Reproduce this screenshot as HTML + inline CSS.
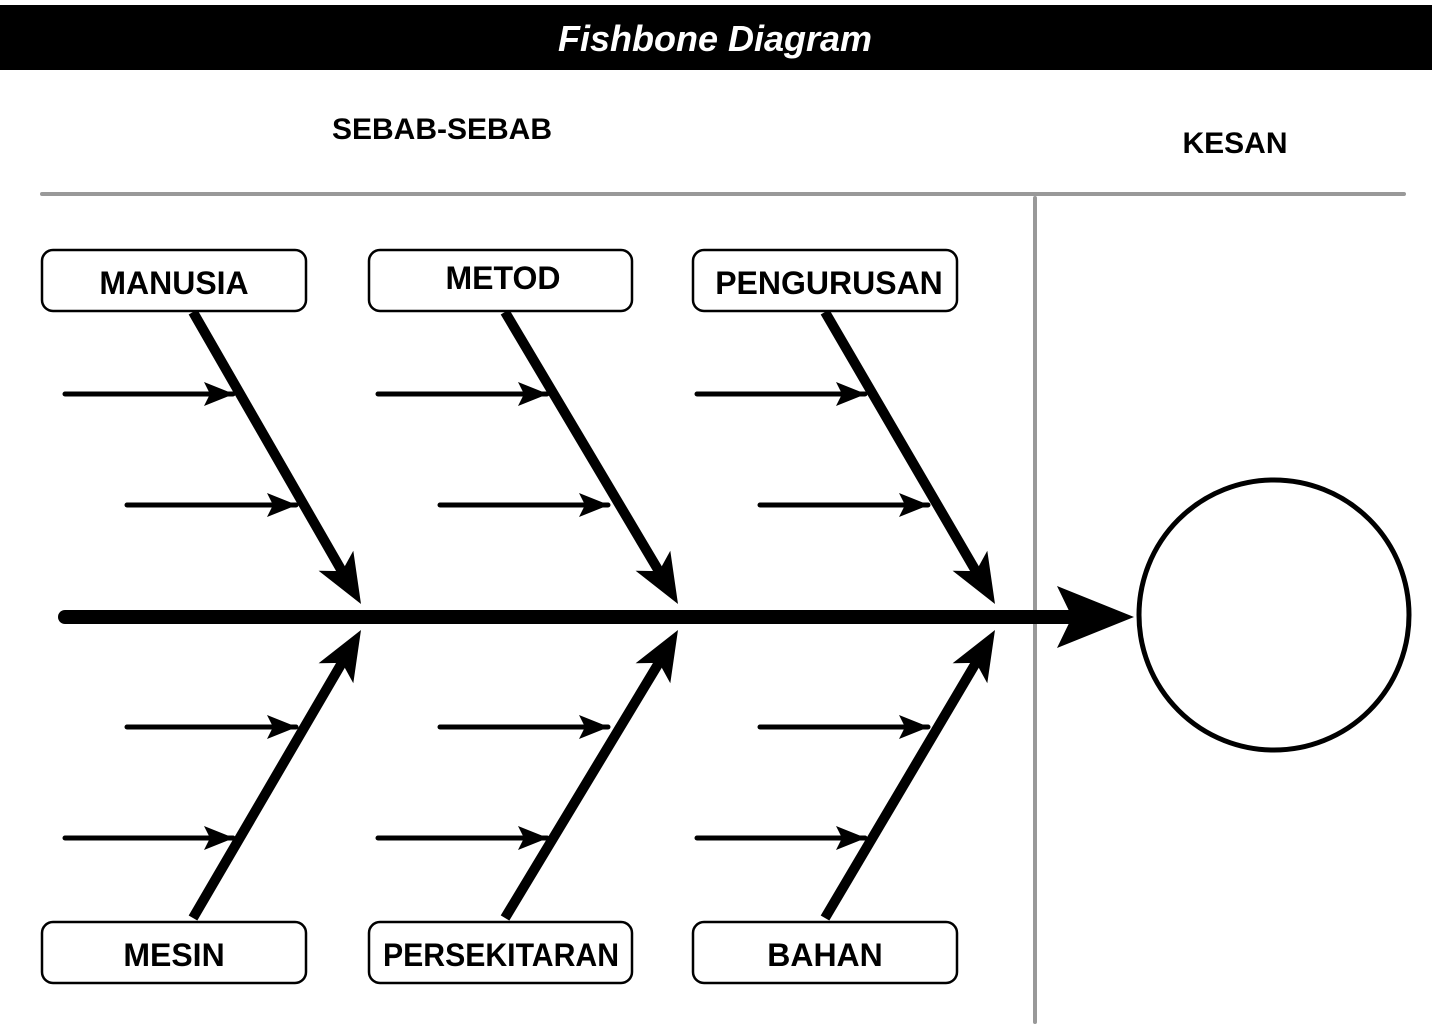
<!DOCTYPE html>
<html><head><style>
body{margin:0;width:1432px;height:1025px;background:#fff;overflow:hidden;font-family:"Liberation Sans",sans-serif}
</style></head><body>
<svg width="1432" height="1025" viewBox="0 0 1432 1025" xmlns="http://www.w3.org/2000/svg">
<defs>
<marker id="sa2" viewBox="0 0 30 24" markerWidth="30" markerHeight="24" refX="29" refY="12" orient="auto" markerUnits="userSpaceOnUse">
<path d="M0,0 L30,12 L0,24 L6,12 Z" fill="#000"/>
</marker>
<path id="hd" d="M0,0 L-42.4,-33.3 L-18.9,-32.9 L-7.7,-53.3 Z" fill="#000"/>
<path id="hu" d="M0,0 L-42.4,33.3 L-18.9,32.9 L-7.7,53.3 Z" fill="#000"/>
</defs>
<rect x="0" y="5" width="1432" height="65" fill="#000"/>
<text x="715" y="51" text-anchor="middle" fill="#fff" font-size="36" font-weight="bold" font-style="italic">Fishbone Diagram</text>
<text x="442" y="139" text-anchor="middle" font-size="30" font-weight="bold">SEBAB-SEBAB</text>
<text x="1235" y="153" text-anchor="middle" font-size="30" font-weight="bold">KESAN</text>
<line x1="42" y1="194" x2="1404" y2="194" stroke="#999" stroke-width="4" stroke-linecap="round"/>
<line x1="1035" y1="198" x2="1035" y2="1022" stroke="#999" stroke-width="4" stroke-linecap="round"/>
<circle cx="1274" cy="615" r="135" fill="none" stroke="#000" stroke-width="5"/>
<line x1="65" y1="617" x2="1075" y2="617" stroke="#000" stroke-width="14" stroke-linecap="round"/>
<path d="M1057,586 L1134,617 L1057,648 L1072,617 Z" fill="#000"/>
<g stroke="#000" stroke-width="10">
<line x1="193" y1="312" x2="343" y2="573"/>
<line x1="505" y1="312" x2="660" y2="573"/>
<line x1="825" y1="312" x2="977" y2="573"/>
<line x1="193" y1="918" x2="343" y2="661"/>
<line x1="505" y1="918" x2="660" y2="661"/>
<line x1="825" y1="918" x2="977" y2="661"/>
</g>
<use href="#hd" x="361" y="604"/>
<use href="#hd" x="678" y="604"/>
<use href="#hd" x="995" y="604"/>
<use href="#hu" x="361" y="630"/>
<use href="#hu" x="678" y="630"/>
<use href="#hu" x="995" y="630"/>
<g stroke="#000" stroke-width="5" stroke-linecap="round" marker-end="url(#sa2)">
<line x1="65" y1="394" x2="233" y2="394"/>
<line x1="127" y1="505" x2="296" y2="505"/>
<line x1="378" y1="394" x2="547" y2="394"/>
<line x1="440" y1="505" x2="608" y2="505"/>
<line x1="697" y1="394" x2="865" y2="394"/>
<line x1="760" y1="505" x2="928" y2="505"/>
<line x1="127" y1="727" x2="296" y2="727"/>
<line x1="65" y1="838" x2="233" y2="838"/>
<line x1="440" y1="727" x2="608" y2="727"/>
<line x1="378" y1="838" x2="547" y2="838"/>
<line x1="760" y1="727" x2="928" y2="727"/>
<line x1="697" y1="838" x2="865" y2="838"/>
</g>
<g fill="#fff" stroke="#000" stroke-width="2.5">
<rect x="42" y="250" width="264" height="61" rx="11"/>
<rect x="369" y="250" width="263" height="61" rx="11"/>
<rect x="693" y="250" width="264" height="61" rx="11"/>
<rect x="42" y="922" width="264" height="61" rx="11"/>
<rect x="369" y="922" width="263" height="61" rx="11"/>
<rect x="693" y="922" width="264" height="61" rx="11"/>
</g>
<g font-size="32" font-weight="bold" text-anchor="middle">
<text x="174" y="294">MANUSIA</text>
<text x="503" y="289">METOD</text>
<text x="829" y="294">PENGURUSAN</text>
<text x="174" y="966">MESIN</text>
<text x="501" y="966" textLength="236" lengthAdjust="spacingAndGlyphs">PERSEKITARAN</text>
<text x="825" y="966">BAHAN</text>
</g>
</svg>
</body></html>
